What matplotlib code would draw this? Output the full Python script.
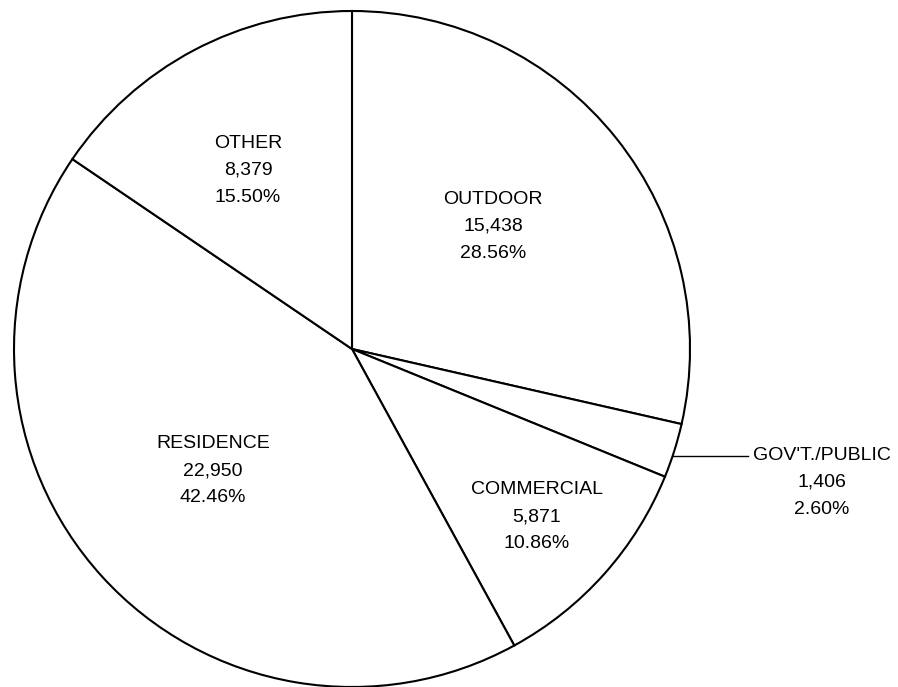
import matplotlib
matplotlib.use("Agg")
import matplotlib.pyplot as plt
import numpy as np

# Data (clockwise from 12 o'clock)
categories = ["OUTDOOR", "GOV'T./PUBLIC", "COMMERCIAL", "RESIDENCE", "OTHER"]
counts = [15438, 1406, 5871, 22950, 8379]
percent_labels = ["28.56%", "2.60%", "10.86%", "42.46%", "15.50%"]

plt.rcParams['font.family'] = ['Liberation Sans', 'DejaVu Sans']

W, H = 898, 687
fig = plt.figure(figsize=(W / 100, H / 100), dpi=100)
ax = fig.add_axes([0, 0, 1, 1])

cx, cy, R = 352, 349, 338
# y axis inverted (pixel coords) -> counterclock=True draws visually clockwise
wedges, _ = ax.pie(counts, center=(cx, cy), radius=R, startangle=-90,
                   counterclock=True, colors=['white'] * len(counts),
                   wedgeprops=dict(edgecolor='black', linewidth=1.5))
ax.set_xlim(0, W)
ax.set_ylim(H, 0)
ax.set_aspect('equal')
ax.axis('off')

# label block positions (middle line), in pixels
label_pos = {
    "OUTDOOR": (493, 226),
    "GOV'T./PUBLIC": (822, 482),
    "COMMERCIAL": (537, 517),
    "RESIDENCE": (213, 471),
    "OTHER": (248, 170),
}
step = 27
fs = 14
for cat, n, p in zip(categories, counts, percent_labels):
    x, y = label_pos[cat]
    lines = [cat, f"{n:,}", p]
    for i, t in enumerate(lines):
        ax.text(x, y + (i - 1) * step, t, ha='center', va='center',
                fontsize=fs, color='black')

# leader line for GOV'T./PUBLIC
ly = 456
lx0 = cx + np.sqrt(R ** 2 - (ly - cy) ** 2)
ax.plot([lx0, 748], [ly, ly], color='black', linewidth=1.0)

fig.savefig("out.png", dpi=100, facecolor='white')
